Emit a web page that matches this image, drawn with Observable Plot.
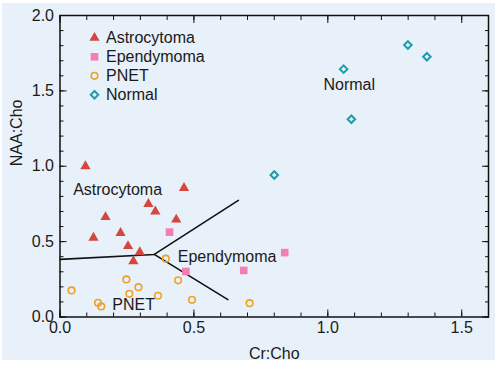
<!DOCTYPE html>
<html>
<head>
<meta charset="utf-8">
<script src="https://cdn.jsdelivr.net/npm/d3@7"></script>
<script src="https://cdn.jsdelivr.net/npm/@observablehq/plot@0.6"></script>
<style>
  html, body { margin: 0; padding: 0; background: #ffffff; }
  #wrap { position: relative; width: 500px; height: 365px; }
  #bg { position: absolute; left: 2px; top: 3px; width: 493px; height: 357px; background: #e8f0f9; }
  #chart { position: absolute; left: 0; top: 0; }
  svg { background: transparent !important; }
</style>
</head>
<body>
<div id="wrap"><div id="bg"></div><div id="chart"></div></div>
<script>
// ---- data ----
const astroX = [0.095, 0.463, 0.330, 0.356, 0.170, 0.434, 0.226, 0.125, 0.254, 0.298, 0.274];
const astroY = [1.000, 0.856, 0.750, 0.700, 0.663, 0.646, 0.557, 0.526, 0.470, 0.430, 0.370];

const ependX = [0.409, 0.470, 0.686, 0.839];
const ependY = [0.563, 0.302, 0.309, 0.427];

const pnetX = [0.043, 0.142, 0.154, 0.248, 0.293, 0.259, 0.366, 0.395, 0.441, 0.493, 0.708];
const pnetY = [0.176, 0.094, 0.070, 0.249, 0.198, 0.154, 0.141, 0.387, 0.243, 0.114, 0.092];

const normX = [1.299, 1.370, 1.059, 1.088, 0.800];
const normY = [1.804, 1.726, 1.644, 1.312, 0.942];

// decision boundary segments
const boundaryUpperX = [0.000, 0.352, 0.666];
const boundaryUpperY = [0.382, 0.415, 0.774];
const boundaryLowerX = [0.352, 0.627];
const boundaryLowerY = [0.415, 0.115];

// region labels
const regionNames = ["Normal", "Astrocytoma", "Ependymoma", "PNET"];
const regionX = [1.080, 0.215, 0.624, 0.275];
const regionY = [1.540, 0.845, 0.400, 0.083];

// legend
const legendNames = ["Astrocytoma", "Ependymoma", "PNET", "Normal"];

// ticks
const xMajor = [0, 0.5, 1.0, 1.5];
const yMajor = [0, 0.5, 1.0, 1.5, 2.0];
const xMinor = d3.range(0, 17).map(i => i / 10);
const yMinor = d3.range(0, 21).map(i => i / 10);

// ---- build ----
const zip = (xs, ys) => xs.map((x, i) => ({x, y: ys[i]}));
const astro = zip(astroX, astroY);
const epend = zip(ependX, ependY);
const pnet = zip(pnetX, pnetY);
const norm = zip(normX, normY);
const upper = zip(boundaryUpperX, boundaryUpperY);
const lower = zip(boundaryLowerX, boundaryLowerY);
const regions = regionNames.map((t, i) => ({t, x: regionX[i], y: regionY[i]}));

const C = {
  astro: "#d5463f",
  epend: "#f27fb2",
  pnet: "#eca325",
  norm: "#1a9fae"
};
const FONT = "Liberation Sans, Arial, Helvetica, sans-serif";
const TXT = "#1a1a1a";
const FS = 16;

const legendStyles = [
  {symbol: "triangle", fill: C.astro, stroke: "none", r: 3.8, strokeWidth: 0},
  {symbol: "square", fill: C.epend, stroke: "none", r: 4.3, strokeWidth: 0},
  {symbol: "circle", fill: "none", stroke: C.pnet, r: 3.3, strokeWidth: 1.6},
  {symbol: "diamond2", fill: "none", stroke: C.norm, r: 3.4, strokeWidth: 2}
];

const legendMarks = [];
legendNames.forEach((name, i) => {
  const s = legendStyles[i];
  const dy = 22.3 + i * 19;
  legendMarks.push(Plot.dot([name], {frameAnchor: "top-left", dx: 34.5, dy, symbol: () => s.symbol, r: s.r, fill: s.fill, stroke: s.stroke, strokeWidth: s.strokeWidth}));
  legendMarks.push(Plot.text([name], {frameAnchor: "top-left", dx: 46, dy, text: d => d, textAnchor: "start", lineAnchor: "middle", fontSize: FS, fill: TXT}));
});

const chart = Plot.plot({
  width: 500,
  height: 365,
  marginLeft: 59.5,
  marginRight: 12,
  marginTop: 15,
  marginBottom: 48.5,
  style: {fontFamily: FONT, background: "transparent", overflow: "visible"},
  x: {domain: [0, 1.6]},
  y: {domain: [0, 2.0]},
  marks: [
    // tick label axes
    Plot.axisX({anchor: "bottom", ticks: xMajor, tickSize: 0, tickPadding: 5, tickFormat: d3.format(".1f"), fontSize: FS, fill: TXT, label: null}),
    Plot.axisY({anchor: "left", ticks: yMajor, tickSize: 0, tickPadding: 6, tickFormat: d3.format(".1f"), fontSize: FS, fill: TXT, label: null}),
    // inward minor ticks
    Plot.axisX({anchor: "bottom", ticks: xMinor, tickSize: -4, tickFormat: () => "", label: null, stroke: "#111"}),
    Plot.axisX({anchor: "top", ticks: xMinor, tickSize: -4, tickFormat: () => "", label: null, stroke: "#111"}),
    Plot.axisY({anchor: "left", ticks: yMinor, tickSize: -4, tickFormat: () => "", label: null, stroke: "#111"}),
    Plot.axisY({anchor: "right", ticks: yMinor, tickSize: -4, tickFormat: () => "", label: null, stroke: "#111"}),
    // inward major ticks
    Plot.axisX({anchor: "bottom", ticks: xMajor, tickSize: -7, tickFormat: () => "", label: null, stroke: "#111"}),
    Plot.axisX({anchor: "top", ticks: xMajor, tickSize: -7, tickFormat: () => "", label: null, stroke: "#111"}),
    Plot.axisY({anchor: "left", ticks: yMajor, tickSize: -7, tickFormat: () => "", label: null, stroke: "#111"}),
    Plot.axisY({anchor: "right", ticks: yMajor, tickSize: -7, tickFormat: () => "", label: null, stroke: "#111"}),
    Plot.frame({stroke: "#111", strokeWidth: 1.5}),
    // axis titles
    Plot.text(["Cr:Cho"], {frameAnchor: "bottom", dy: 36.5, text: d => d, lineAnchor: "middle", fontSize: FS, fill: TXT}),
    Plot.text(["NAA:Cho"], {frameAnchor: "left", dx: -43.5, rotate: -90, text: d => d, lineAnchor: "middle", fontSize: FS, fill: TXT}),
    // boundaries
    Plot.line(upper, {x: "x", y: "y", stroke: "#111", strokeWidth: 1.6}),
    Plot.line(lower, {x: "x", y: "y", stroke: "#111", strokeWidth: 1.6}),
    // region labels
    Plot.text(regions, {x: "x", y: "y", text: "t", fontSize: FS, fill: TXT, lineAnchor: "middle"}),
    // data
    Plot.dot(astro, {x: "x", y: "y", symbol: "triangle", r: 3.8, fill: C.astro, stroke: "none"}),
    Plot.dot(epend, {x: "x", y: "y", symbol: "square", r: 4.3, fill: C.epend, stroke: "none"}),
    Plot.dot(pnet, {x: "x", y: "y", symbol: "circle", r: 3.3, fill: "none", stroke: C.pnet, strokeWidth: 1.6}),
    Plot.dot(norm, {x: "x", y: "y", symbol: "diamond2", r: 3.4, fill: "none", stroke: C.norm, strokeWidth: 2}),
    ...legendMarks
  ]
});
document.getElementById("chart").appendChild(chart);
</script>
</body>
</html>
